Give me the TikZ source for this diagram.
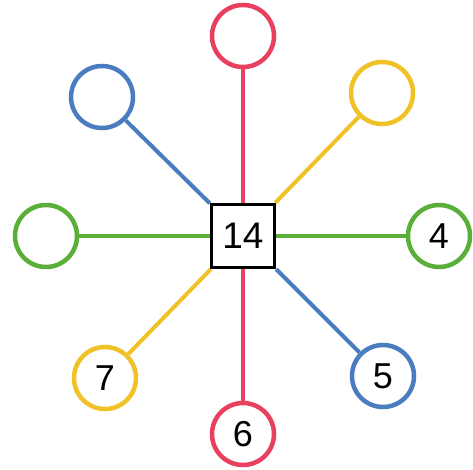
\documentclass[tikz,border=0pt]{standalone}
\usepackage{fontspec}
\setmainfont{Liberation Sans}
\usepackage{tikz}
\usetikzlibrary{calc}
\definecolor{rosered}{HTML}{E8405E}
\definecolor{skyblue}{HTML}{4A7CC0}
\definecolor{sunyellow}{HTML}{F0C228}
\definecolor{leafgreen}{HTML}{5AAE3A}
\tikzset{
  ring/.style={circle, draw=#1, line width=4.5pt, fill=white, minimum size=62pt, inner sep=0pt, font=\fontsize{36}{36}\selectfont},
  hub/.style={draw=black, line width=3.5pt, fill=white, minimum size=63pt, inner sep=0pt, font=\fontsize{37}{37}\selectfont},
  spoke/.style={draw=#1, line width=4pt}
}
\begin{document}
\begin{tikzpicture}[x=1pt,y=1pt]
        \useasboundingbox (0,0) rectangle (473,469);
        \node[hub] (sq) at (243,233) {14};
        \foreach \nm/\x/\y/\col/\lab in {top/243/433/rosered/,
            topleft/102/372/skyblue/, topright/382/376/sunyellow/,
            left/46/233/leafgreen/, right/439/233/leafgreen/4,
            botleft/105/91/sunyellow/7, botright/383/93/skyblue/5,
            bot/243/35/rosered/6}
        {
        \node[ring=\col] (\nm) at (\x,\y) {\lab};
        \draw[spoke=\col] (sq) -- (\nm);
        }
    \end{tikzpicture}
\end{document}
